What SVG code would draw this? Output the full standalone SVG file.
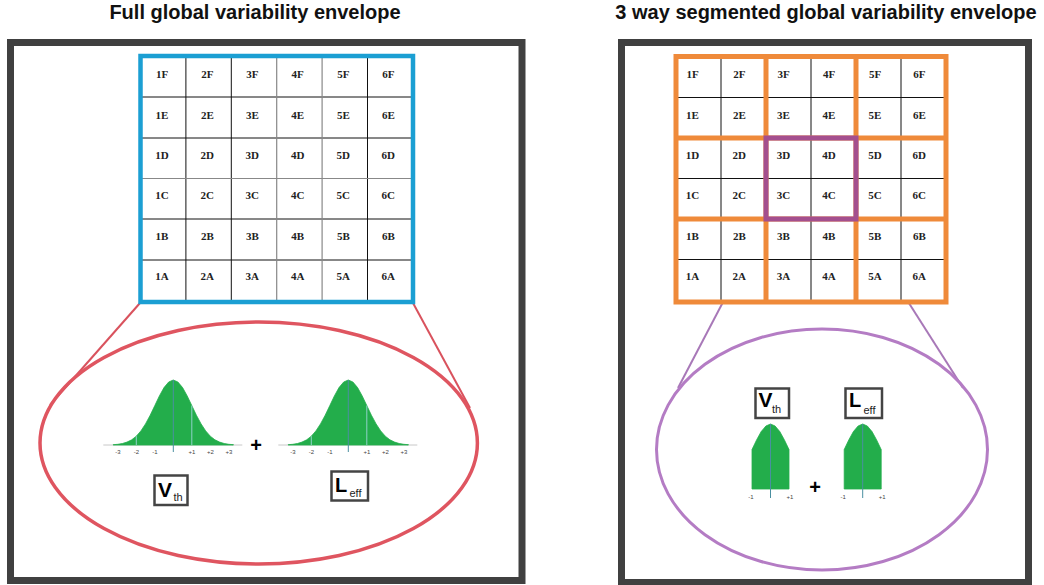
<svg xmlns="http://www.w3.org/2000/svg" width="1044" height="585" viewBox="0 0 1044 585">
<style>
.title{font-family:"Liberation Sans",Arial,sans-serif;font-weight:bold;font-size:20px;fill:#111;text-anchor:middle}
.frame{fill:none;stroke:#404040;stroke-width:7}
.cell{font-family:"Liberation Serif","Times New Roman",serif;font-weight:bold;font-size:11px;fill:#222;text-anchor:middle}
.thin{stroke:#111;stroke-width:1}
.gray{stroke:#888;stroke-width:1.2}
.big{font-family:"Liberation Sans",Arial,sans-serif;font-weight:bold;fill:#000}
.sub{font-family:"Liberation Sans",Arial,sans-serif;fill:#222}
.lbox{fill:#fff;stroke:#444;stroke-width:2.5}
.tick{font-family:"Liberation Sans",Arial,sans-serif;font-size:6px;fill:#444;text-anchor:middle}
.green{fill:#23ad4b;stroke:#23ad4b;stroke-width:0.8;stroke-linejoin:round}
.plus{font-family:"Liberation Sans",Arial,sans-serif;font-weight:bold;font-size:20px;fill:#000;text-anchor:middle}
</style>
<defs>
<path id="bell" d="M -60.1 0 L -60.1 -0.3 L -55.5 -0.7 L -50.9 -1.5 L -46.3 -2.9 L -41.6 -5.2 L -37 -8.8 L -32.4 -14.1 L -27.8 -21.1 L -23.1 -29.8 L -18.5 -39.4 L -13.9 -49.1 L -9.3 -57.4 L -4.6 -63 L 0 -65 L 4.6 -63 L 9.3 -57.4 L 13.9 -49.1 L 18.5 -39.4 L 23.1 -29.8 L 27.8 -21.1 L 32.4 -14.1 L 37 -8.8 L 41.6 -5.2 L 46.3 -2.9 L 50.9 -1.5 L 55.5 -0.7 L 60.1 -0.3 L 60.1 0 Z"/>
<path id="trunc" d="M -18.5 0 L -18.5 -39.4 L -13.9 -49.1 L -9.3 -57.4 L -4.6 -63 L 0 -65 L 4.6 -63 L 9.3 -57.4 L 13.9 -49.1 L 18.5 -39.4 L 18.5 0 Z"/>
<g id="bellfull">
<line x1="-70" y1="0" x2="69" y2="0" stroke="#c8c8c8" stroke-width="1"/>
<use href="#bell" class="green"/>
<line x1="-37" y1="0" x2="-37" y2="-8.8" stroke="#8fd0c8" stroke-width="1"/>
<line x1="0" y1="7" x2="0" y2="-65" stroke="#4a8fa0" stroke-width="1"/>
<line x1="18.5" y1="0" x2="18.5" y2="-39.4" stroke="#8fd0c8" stroke-width="1"/>
<text class="tick" x="-55.5" y="9">-3</text>
<text class="tick" x="-37" y="9">-2</text>
<text class="tick" x="-18.5" y="9">-1</text>
<text class="tick" x="18.5" y="9">+1</text>
<text class="tick" x="37" y="9">+2</text>
<text class="tick" x="55.5" y="9">+3</text>
</g>
<g id="belltrunc">
<use href="#trunc" class="green"/>
<line x1="0" y1="9" x2="0" y2="-65" stroke="#4a8fa0" stroke-width="1"/>
<text class="tick" x="-19.5" y="10">-1</text>
<text class="tick" x="19.5" y="10">+1</text>
</g>
</defs>

<rect width="1044" height="585" fill="#fff"/>

<g id="titles">
<text class="title" x="255" y="19">Full global variability envelope</text>
<text class="title" x="826" y="19">3 way segmented global variability envelope</text>
</g>

<g id="frames">
<rect class="frame" x="10.5" y="42.5" width="511.5" height="538"/>
<rect class="frame" x="621.5" y="42.5" width="407" height="540"/>
</g>

<g id="connectors">
<line x1="140" y1="303" x2="50" y2="405" stroke="#d9525d" stroke-width="2"/>
<line x1="413" y1="303" x2="470" y2="408" stroke="#d9525d" stroke-width="2"/>
<line x1="766" y1="220" x2="678" y2="388" stroke="#a878b8" stroke-width="2"/>
<line x1="856" y1="220" x2="963" y2="388" stroke="#a878b8" stroke-width="2"/>
</g>

<g id="full-envelope">
<ellipse cx="258.7" cy="443" rx="218.7" ry="121" fill="none" stroke="#df5560" stroke-width="3.5"/>
<use href="#bellfull" x="173.3" y="445"/>
<use href="#bellfull" x="348.3" y="445"/>
<text class="plus" x="256" y="452">+</text>
<rect class="lbox" x="154.5" y="475.5" width="33" height="29.5"/>
<text class="big" x="158" y="497" font-size="21">V</text>
<text class="sub" x="173.5" y="500.5" font-size="11">th</text>
<rect class="lbox" x="331.5" y="471.5" width="36.5" height="29"/>
<text class="big" x="335" y="492" font-size="20">L</text>
<text class="sub" x="349.5" y="497" font-size="11">eff</text>
</g>

<g id="segmented-envelope">
<ellipse cx="822" cy="449.5" rx="165.5" ry="120.5" fill="none" stroke="#b47cc4" stroke-width="3"/>
<rect class="lbox" x="755.5" y="388.5" width="33.5" height="29.5"/>
<text class="big" x="758.5" y="407" font-size="21">V</text>
<text class="sub" x="772" y="413" font-size="11">th</text>
<rect class="lbox" x="845.5" y="388.5" width="36.5" height="29.5"/>
<text class="big" x="849" y="407" font-size="20">L</text>
<text class="sub" x="863.5" y="413.5" font-size="11">eff</text>
<use href="#belltrunc" x="770.5" y="489"/>
<use href="#belltrunc" x="862.7" y="489"/>
<text class="plus" x="815" y="494">+</text>
</g>

<g id="grid-full">
<rect x="140.5" y="56" width="272.5" height="246" fill="#fff"/>
<g class="thin">
<line x1="185.9" y1="56" x2="185.9" y2="302"/>
<line x1="231.3" y1="56" x2="231.3" y2="302"/>
<line x1="367.5" y1="56" x2="367.5" y2="302"/>
<line x1="140.5" y1="97" x2="413" y2="97"/>
<line x1="140.5" y1="138" x2="413" y2="138"/>
<line x1="140.5" y1="219" x2="413" y2="219"/>
<line x1="140.5" y1="260" x2="413" y2="260"/>
</g>
<g class="gray">
<line x1="276.7" y1="56" x2="276.7" y2="302"/>
<line x1="322.1" y1="56" x2="322.1" y2="302"/>
<line x1="140.5" y1="178.5" x2="413" y2="178.5"/>
</g>
<rect x="140.5" y="56" width="272.5" height="246" fill="none" stroke="#1b9fd3" stroke-width="4.5"/>
<g class="cell">
<text x="162" y="77.6">1F</text><text x="207.3" y="77.6">2F</text><text x="252.3" y="77.6">3F</text><text x="297.7" y="77.6">4F</text><text x="343.3" y="77.6">5F</text><text x="388.3" y="77.6">6F</text>
<text x="162" y="118.6">1E</text><text x="207.3" y="118.6">2E</text><text x="252.3" y="118.6">3E</text><text x="297.7" y="118.6">4E</text><text x="343.3" y="118.6">5E</text><text x="388.3" y="118.6">6E</text>
<text x="162" y="158.6">1D</text><text x="207.3" y="158.6">2D</text><text x="252.3" y="158.6">3D</text><text x="297.7" y="158.6">4D</text><text x="343.3" y="158.6">5D</text><text x="388.3" y="158.6">6D</text>
<text x="162" y="199.3">1C</text><text x="207.3" y="199.3">2C</text><text x="252.3" y="199.3">3C</text><text x="297.7" y="199.3">4C</text><text x="343.3" y="199.3">5C</text><text x="388.3" y="199.3">6C</text>
<text x="162" y="240">1B</text><text x="207.3" y="240">2B</text><text x="252.3" y="240">3B</text><text x="297.7" y="240">4B</text><text x="343.3" y="240">5B</text><text x="388.3" y="240">6B</text>
<text x="162" y="279.6">1A</text><text x="207.3" y="279.6">2A</text><text x="252.3" y="279.6">3A</text><text x="297.7" y="279.6">4A</text><text x="343.3" y="279.6">5A</text><text x="388.3" y="279.6">6A</text>
</g>
</g>

<g id="grid-segmented">
<rect x="676" y="56.5" width="270" height="245.5" fill="#fff"/>
<g class="thin">
<line x1="721" y1="56.5" x2="721" y2="302"/>
<line x1="811" y1="56.5" x2="811" y2="302"/>
<line x1="901" y1="56.5" x2="901" y2="302"/>
<line x1="676" y1="97.5" x2="946" y2="97.5"/>
<line x1="676" y1="178.5" x2="946" y2="178.5"/>
<line x1="676" y1="259.5" x2="946" y2="259.5"/>
</g>
<g fill="none" stroke="#ef8a3a" stroke-width="5">
<rect x="676" y="56.5" width="270" height="245.5"/>
<line x1="766" y1="56.5" x2="766" y2="302"/>
<line x1="856" y1="56.5" x2="856" y2="302"/>
<line x1="676" y1="138" x2="946" y2="138"/>
<line x1="676" y1="219" x2="946" y2="219"/>
</g>
<rect x="766" y="138" width="90" height="81" fill="none" stroke="#a44f8e" stroke-width="5"/>
<g class="cell">
<text x="692.5" y="77.6">1F</text><text x="739.3" y="77.6">2F</text><text x="783.5" y="77.6">3F</text><text x="829" y="77.6">4F</text><text x="875" y="77.6">5F</text><text x="919.3" y="77.6">6F</text>
<text x="692.5" y="118.6">1E</text><text x="739.3" y="118.6">2E</text><text x="783.5" y="118.6">3E</text><text x="829" y="118.6">4E</text><text x="875" y="118.6">5E</text><text x="919.3" y="118.6">6E</text>
<text x="692.5" y="158.6">1D</text><text x="739.3" y="158.6">2D</text><text x="783.5" y="158.6">3D</text><text x="829" y="158.6">4D</text><text x="875" y="158.6">5D</text><text x="919.3" y="158.6">6D</text>
<text x="692.5" y="199.3">1C</text><text x="739.3" y="199.3">2C</text><text x="783.5" y="199.3">3C</text><text x="829" y="199.3">4C</text><text x="875" y="199.3">5C</text><text x="919.3" y="199.3">6C</text>
<text x="692.5" y="240">1B</text><text x="739.3" y="240">2B</text><text x="783.5" y="240">3B</text><text x="829" y="240">4B</text><text x="875" y="240">5B</text><text x="919.3" y="240">6B</text>
<text x="692.5" y="279.6">1A</text><text x="739.3" y="279.6">2A</text><text x="783.5" y="279.6">3A</text><text x="829" y="279.6">4A</text><text x="875" y="279.6">5A</text><text x="919.3" y="279.6">6A</text>
</g>
</g>
</svg>
